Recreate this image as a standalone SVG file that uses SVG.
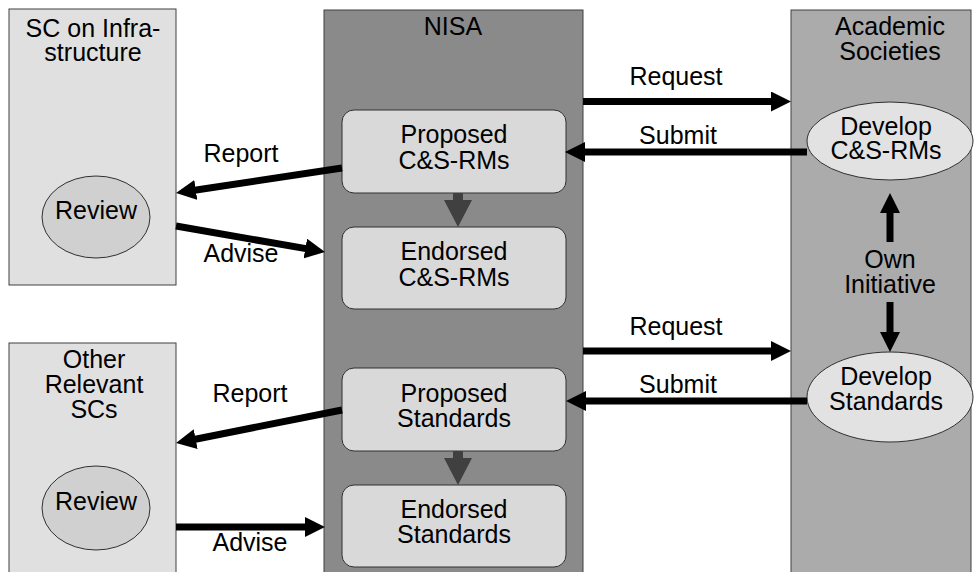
<svg xmlns="http://www.w3.org/2000/svg" width="979" height="572" viewBox="0 0 979 572">
<defs>
<style>
text{font-family:"Liberation Sans",Arial,sans-serif;font-size:25px;fill:#000;text-anchor:middle}
.side{fill:#e0e0e0;stroke:#404040;stroke-width:1}
.nisa{fill:#8a8a8a;stroke:#404040;stroke-width:1}
.acad{fill:#ababab;stroke:#404040;stroke-width:1}
.box{fill:#d9d9d9;stroke:#303030;stroke-width:1}
.rev{fill:#d0d0d0;stroke:#303030;stroke-width:1}
.dev{fill:#e2e2e2;stroke:#303030;stroke-width:1}
.flow{fill:#404040}
.conn line{stroke:#000;stroke-width:7;fill:none;marker-end:url(#ah)}
</style>
<marker id="ah" markerUnits="userSpaceOnUse" markerWidth="20" markerHeight="20" refX="8" refY="10" orient="auto">
<path d="M0,0 L20,10 L0,20 z" fill="#000"/>
</marker>
</defs>
<rect width="979" height="572" fill="#fff"/>

<g id="sc-infra">
<rect class="side" x="9" y="9" width="167" height="276"/>
<text x="93" y="37">SC on Infra-</text>
<text x="93" y="61">structure</text>
</g>
<g id="review1">
<ellipse class="rev" cx="96" cy="217" rx="54" ry="41"/>
<text x="96" y="219">Review</text>
</g>

<g id="sc-other">
<rect class="side" x="9" y="343" width="167" height="240"/>
<text x="94" y="368">Other</text>
<text x="94" y="393">Relevant</text>
<text x="94" y="418">SCs</text>
</g>
<g id="review2">
<ellipse class="rev" cx="96" cy="508" rx="54" ry="42"/>
<text x="96" y="510">Review</text>
</g>

<g id="nisa">
<rect class="nisa" x="324" y="10" width="259" height="575"/>
<text x="453" y="35">NISA</text>
</g>
<g id="proposed-csrm">
<rect class="box" x="342" y="110" width="224" height="83" rx="12"/>
<text x="454" y="143">Proposed</text>
<text x="454" y="169">C&amp;S-RMs</text>
</g>
<g id="endorsed-csrm">
<rect class="box" x="342" y="227" width="224" height="82" rx="12"/>
<text x="454" y="260">Endorsed</text>
<text x="454" y="286">C&amp;S-RMs</text>
</g>
<g id="proposed-std">
<rect class="box" x="342" y="368" width="224" height="83" rx="12"/>
<text x="454" y="402">Proposed</text>
<text x="454" y="427">Standards</text>
</g>
<g id="endorsed-std">
<rect class="box" x="342" y="485" width="224" height="82" rx="12"/>
<text x="454" y="518">Endorsed</text>
<text x="454" y="543">Standards</text>
</g>

<g id="academic">
<rect class="acad" x="791" y="10" width="180" height="575"/>
<text x="890" y="35">Academic</text>
<text x="890" y="60">Societies</text>
<text x="890" y="268">Own</text>
<text x="890" y="293">Initiative</text>
</g>
<g id="develop-csrm">
<ellipse class="dev" cx="890" cy="141" rx="83" ry="39"/>
<text x="886" y="135">Develop</text>
<text x="886" y="159">C&amp;S-RMs</text>
</g>
<g id="develop-std">
<ellipse class="dev" cx="890" cy="397" rx="83" ry="45"/>
<text x="886" y="385">Develop</text>
<text x="886" y="410">Standards</text>
</g>

<g id="connectors">
<g class="conn">
<line x1="342" y1="168" x2="187.9" y2="191.2"/>
<line x1="176" y1="226" x2="313.2" y2="249.9"/>
<line x1="342" y1="410" x2="187.8" y2="440.7"/>
<line x1="176" y1="527" x2="313" y2="527"/>
<line x1="583" y1="101.5" x2="779" y2="101.5"/>
<line x1="807" y1="152" x2="577" y2="152"/>
<line x1="583" y1="351" x2="779" y2="351"/>
<line x1="807" y1="401" x2="578" y2="401"/>
<line x1="890" y1="242" x2="890" y2="205"/>
<line x1="890" y1="302" x2="890" y2="340"/>
</g>
<polygon class="flow" points="453,193 463,193 463,200 472,200 458,227 444,200 453,200"/>
<polygon class="flow" points="453,451 463,451 463,458 472,458 458,485 444,458 453,458"/>
<text x="241" y="162">Report</text>
<text x="241" y="262">Advise</text>
<text x="250" y="402">Report</text>
<text x="250" y="551">Advise</text>
<text x="676" y="85">Request</text>
<text x="678" y="144">Submit</text>
<text x="676" y="335">Request</text>
<text x="678" y="393">Submit</text>
</g>
</svg>
